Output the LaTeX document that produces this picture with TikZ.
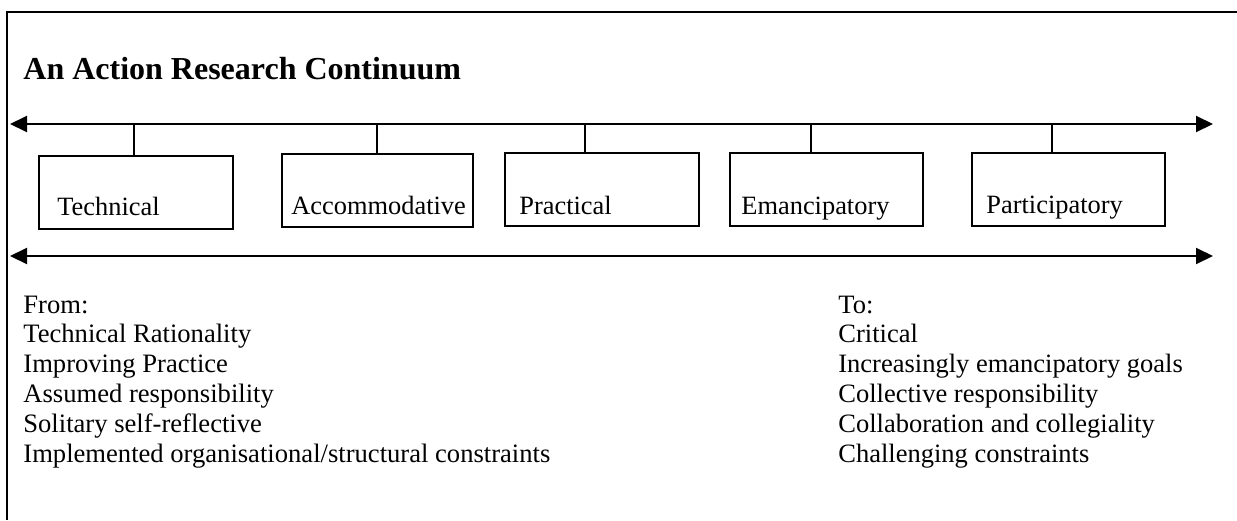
\documentclass[tikz,border=0pt]{standalone}
\usepackage{fontspec}
\setmainfont{Liberation Serif}
\usetikzlibrary{arrows.meta, positioning}

\begin{document}
\begin{tikzpicture}[x=0.5pt, y=-0.5pt,
    stagebox/.style={draw, line width=1pt, minimum height=36.5pt, inner sep=0pt},
    stagetext/.style={anchor=base west, inner sep=0pt, font=\fontsize{13.2}{15}\selectfont},
    axis/.style={>={Triangle[length=8.5pt, width=8pt]}, <->, line width=1pt},
    stem/.style={line width=1pt},
    fromtext/.style={anchor=base west, inner sep=0pt, font=\fontsize{13.3}{15}\selectfont},
    totext/.style={anchor=base west, inner sep=0pt, font=\fontsize{13.25}{15}\selectfont}
]
    \useasboundingbox (0,0) rectangle (1237,520);

    % Frame
    \draw[line width=1pt] (7,520) -- (7,12) -- (1237,12);

    % Title
    \node[anchor=base west, inner sep=0pt, font=\fontsize{16}{19}\selectfont\bfseries] (title) at (23,79) {An Action Research Continuum};

    % Continuum axes
    \coordinate (topleft) at (10,124);
    \coordinate (topright) at (1213,124);
    \coordinate (botleft) at (10,256);
    \coordinate (botright) at (1213,256);
    \draw[axis] (topleft) -- (topright);
    \draw[axis] (botleft) -- (botright);

    % Stages
    \node[stagebox, minimum width=97pt] (technical) at (135.5,192.5) {};
    \node[stagebox, minimum width=95.5pt] (accommodative) at (377,190.5) {};
    \node[stagebox, minimum width=97pt] (practical) at (601.5,189) {};
    \node[stagebox, minimum width=96.5pt] (emancipatory) at (826,189) {};
    \node[stagebox, minimum width=96.5pt] (participatory) at (1068,189.5) {};

    \node[stagetext] (technicaltext) at (57,215) {Technical};
    \node[stagetext] (accommodativetext) at (291,214) {Accommodative};
    \node[stagetext] (practicaltext) at (519,214) {Practical};
    \node[stagetext] (emancipatorytext) at (741,214) {Emancipatory};
    \node[stagetext] (participatorytext) at (986,213) {Participatory};

    % Stems up to the axis
    \foreach \n/\s in {technical/-0.75, accommodative/0, practical/-8.25, emancipatory/-7.5, participatory/-8}
        \draw[stem] ([xshift=\s pt]\n.north) -- ([xshift=\s pt]\n.north |- topleft);

    % From / To
    \foreach \t [count=\i] in {From:, Technical Rationality, Improving Practice, Assumed responsibility, Solitary self-reflective, Implemented organisational/structural constraints}
        \node[fromtext] (from\i) at (23,{313+29.9*(\i-1)}) {\t};
    \foreach \t [count=\i] in {To:, Critical, Increasingly emancipatory goals, Collective responsibility, Collaboration and collegiality, Challenging constraints}
        \node[totext] (to\i) at (838,{313+29.9*(\i-1)}) {\t};
\end{tikzpicture}
\end{document}
